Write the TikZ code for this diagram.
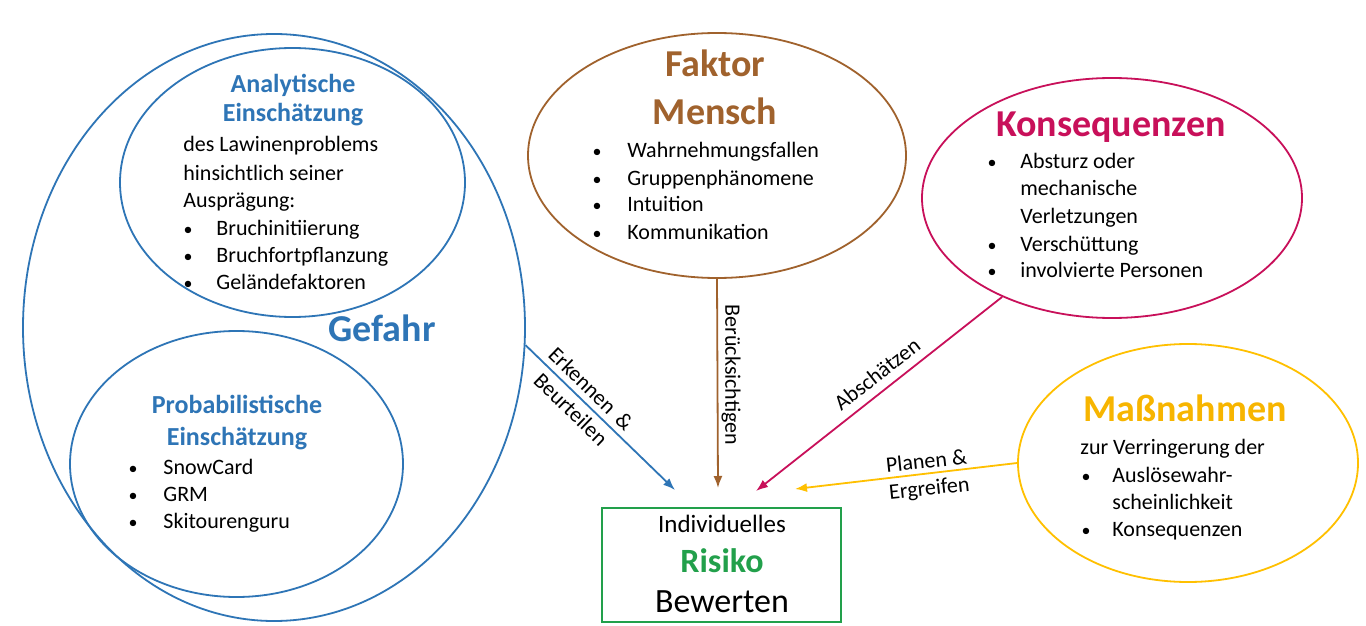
\documentclass[tikz,border=0pt]{standalone}
\usepackage{fontspec}
\setmainfont{Carlito}
\usetikzlibrary{shapes.geometric,arrows.meta}
\definecolor{gblue}{HTML}{2E75B6}
\definecolor{fmbrown}{HTML}{A0622D}
\definecolor{kred}{HTML}{C8105A}
\definecolor{myellow}{HTML}{FFC000}
\definecolor{mtext}{HTML}{F7B500}
\definecolor{rgreen}{HTML}{22A04B}
\tikzset{
  ell/.style={draw, ellipse, inner sep=0pt, line width=0.9pt},
  body/.style={font=\fontsize{11}{13.5}\selectfont, inner sep=0pt, anchor=base west},
  dot/.style={font=\fontsize{9}{13.5}\selectfont, inner sep=0pt, anchor=base},
  bhead/.style={font=\fontsize{13}{15}\selectfont\bfseries, inner sep=0pt, anchor=base},
  big/.style={font=\fontsize{19}{23}\selectfont\bfseries, inner sep=0pt, anchor=base},
  conn/.style={line width=0.9pt, -{Latex[length=6pt,width=4.5pt]}},
  lab/.style={font=\fontsize{11}{13.5}\selectfont, inner sep=0pt, align=center, text=black}
}
\begin{document}
\begin{tikzpicture}[x=0.5pt,y=-0.5pt]
\useasboundingbox (0,0) rectangle (1366,626);
\fill[white] (0,0) rectangle (1366,626);

% ellipses
\node[ell, draw=gblue, minimum width=251pt, minimum height=293.5pt] (gefahr) at (274,327.5) {};
\node[ell, draw=gblue, minimum width=172.5pt, minimum height=134.5pt] (ana) at (292.5,182.5) {};
\node[ell, draw=gblue, minimum width=166.5pt, minimum height=133pt] (prob) at (236.5,464) {};
\node[ell, draw=fmbrown, minimum width=189pt, minimum height=122.5pt] (fm) at (717,155.5) {};
\node[ell, draw=kred, minimum width=190pt, minimum height=120pt] (kons) at (1112,198) {};
\node[ell, draw=myellow, minimum width=170pt, minimum height=119pt] (mass) at (1188,463) {};
\node[draw=rgreen, line width=0.9pt, minimum width=119.5pt, minimum height=57pt, inner sep=0pt] (risk) at (721.5,565) {};

% Gefahr
\node[big, text=gblue] (tgef) at (382,341) {Gefahr};
\node[bhead, text=gblue] (tana1) at (293,92.5) {Analytische};
\node[bhead, text=gblue] (tana2) at (293,122) {Einschätzung};
\node[body] (ana1) at (183,152) {des Lawinenproblems};
\node[body] (ana2) at (183,180) {hinsichtlich seiner};
\node[body] (ana3) at (183,207.5) {Ausprägung:};
\foreach \txt/\yy [count=\i] in {Bruchinitiierung/235, Bruchfortpflanzung/262, Geländefaktoren/289} {
  \node[dot] (anab\i) at (188,\yy) {\textbullet};
  \node[body] (anai\i) at (216,\yy) {\txt};
}
\node[bhead, text=gblue] (tprob1) at (237,413) {Probabilistische};
\node[bhead, text=gblue] (tprob2) at (237,445) {Einschätzung};
\foreach \txt/\yy [count=\i] in {SnowCard/474, GRM/501, Skitourenguru/528} {
  \node[dot] (probb\i) at (133,\yy) {\textbullet};
  \node[body] (probi\i) at (163,\yy) {\txt};
}

% Faktor Mensch
\node[big, text=fmbrown] (tfm1) at (715,77) {Faktor};
\node[big, text=fmbrown] (tfm2) at (715,125) {Mensch};
\foreach \txt/\yy [count=\i] in {Wahrnehmungsfallen/158, Gruppenphänomene/185, Intuition/212, Kommunikation/239} {
  \node[dot] (fmb\i) at (597,\yy) {\textbullet};
  \node[body] (fmi\i) at (627,\yy) {\txt};
}

% Konsequenzen
\node[big, text=kred] (tkons) at (1111,137) {Konsequenzen};
\node[dot] (konsb1) at (992,169) {\textbullet};
\node[body] (konsi1) at (1020,169) {Absturz oder};
\node[body] (konsi2) at (1020,196) {mechanische};
\node[body] (konsi3) at (1020,223) {Verletzungen};
\node[dot] (konsb4) at (992,251) {\textbullet};
\node[body] (konsi4) at (1020,251) {Verschüttung};
\node[dot] (konsb5) at (992,278) {\textbullet};
\node[body] (konsi5) at (1020,278) {involvierte Personen};

% Massnahmen
\node[big, text=mtext] (tmass) at (1185,421) {Maßnahmen};
\node[body] (massi0) at (1080,454) {zur Verringerung der};
\node[dot] (massb1) at (1086,482) {\textbullet};
\node[body] (massi1) at (1112,482) {Auslösewahr-};
\node[body] (massi2) at (1112,509) {scheinlichkeit};
\node[dot] (massb3) at (1086,536) {\textbullet};
\node[body] (massi3) at (1112,536) {Konsequenzen};

% Risiko box
\node[inner sep=0pt, anchor=base, font=\fontsize{12.5}{15}\selectfont] (tr1) at (722,532) {Individuelles};
\node[inner sep=0pt, anchor=base, font=\fontsize{17}{20}\selectfont\bfseries, text=rgreen] (tr2) at (722,572) {Risiko};
\node[inner sep=0pt, anchor=base, font=\fontsize{17}{20}\selectfont] (tr3) at (722,612) {Bewerten};

% arrow tips
\coordinate (tipB) at (675,490);
\coordinate (tipF) at (718,488);
\coordinate (tipK) at (756,491);
\coordinate (tipM) at (795,489);

\draw[conn, gblue] (gefahr.-4.2) -- (tipB);
\draw[conn, fmbrown] (fm.south) -- (tipF);
\draw[conn, kred] (kons.222.6) -- (tipK);
\draw[conn, myellow] (mass.west) -- (tipM);

% labels
\node[lab, rotate=-44] (lE) at (581,399) {Erkennen \,\&\\[1pt]Beurteilen};
\node[lab, rotate=-90] (lF) at (731,375) {Berücksichtigen};
\node[lab, rotate=38] (lK) at (877,374) {Abschätzen};
\node[lab, rotate=6] (lM) at (928,476) {Planen \&\\Ergreifen};
\end{tikzpicture}
\end{document}
